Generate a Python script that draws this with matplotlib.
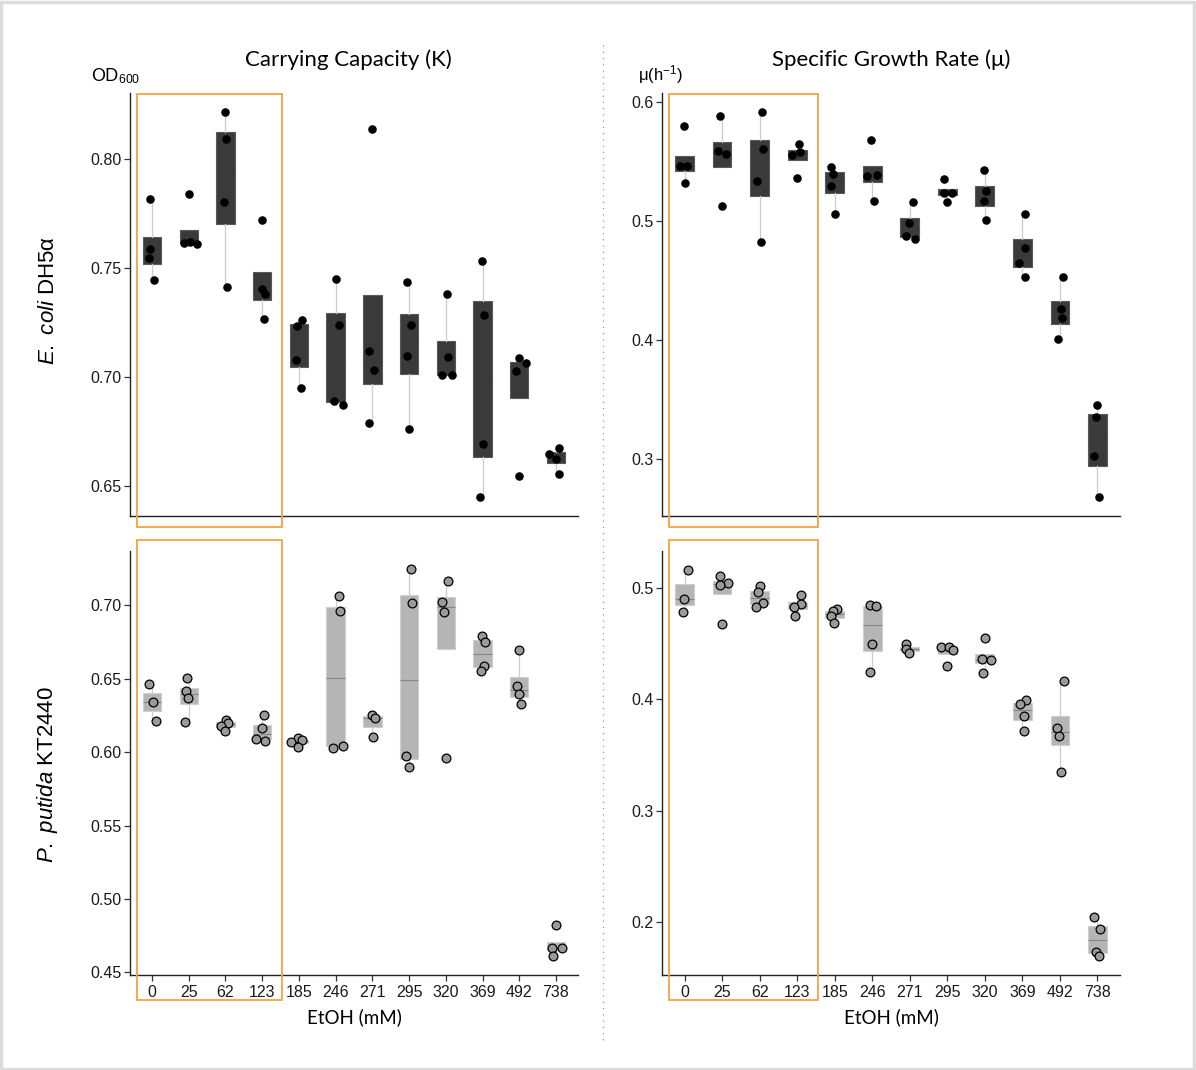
import matplotlib
matplotlib.use("Agg")
import matplotlib.pyplot as plt
import matplotlib.transforms as mtransforms
from matplotlib.patches import Rectangle
from matplotlib.lines import Line2D

plt.rcParams['font.family'] = ['Liberation Sans', 'DejaVu Sans']
plt.rcParams['mathtext.fontset'] = 'custom'
plt.rcParams['mathtext.rm'] = 'Liberation Sans'
plt.rcParams['mathtext.it'] = 'Liberation Sans:italic'

# EtOH concentrations (mM)
etoh = ['0', '25', '62', '123', '185', '246', '271', '295', '320', '369', '492', '738']

# E. coli DH5a, carrying capacity K (OD600)
ecoli_K = [
    [0.7815, 0.7584, 0.7543, 0.7442],
    [0.7840, 0.7619, 0.7614, 0.7607],
    [0.8215, 0.8088, 0.7799, 0.7411],
    [0.7719, 0.7404, 0.7382, 0.7267],
    [0.7262, 0.7235, 0.7077, 0.6951],
    [0.7450, 0.7238, 0.6890, 0.6870],
    [0.8133, 0.7120, 0.7030, 0.6788],
    [0.7437, 0.7239, 0.7097, 0.6762],
    [0.7381, 0.7094, 0.7009, 0.7009],
    [0.7532, 0.7286, 0.6693, 0.6451],
    [0.7087, 0.7062, 0.7026, 0.6545],
    [0.6676, 0.6650, 0.6624, 0.6556],
]
ecoli_K_jit = [
    [-0.06, -0.06, -0.08, 0.04], [0.0, 0.03, -0.13, 0.23], [-0.01, 0.01, -0.03, 0.04],
    [0.0, 0.0, 0.07, 0.05], [0.08, -0.05, -0.07, 0.05], [0.0, 0.09, -0.05, 0.2],
    [0.0, -0.09, 0.05, -0.09], [-0.05, 0.04, -0.05, 0.0], [0.02, 0.05, -0.09, 0.16],
    [-0.02, 0.05, 0.0, -0.07], [0.0, 0.18, -0.09, 0.0], [0.08, -0.19, 0.0, 0.08],
]

# E. coli DH5a, specific growth rate mu (1/h)
ecoli_mu = [
    [0.5798, 0.5462, 0.5462, 0.5319],
    [0.5885, 0.5591, 0.5563, 0.5129],
    [0.5922, 0.5605, 0.5339, 0.4826],
    [0.5647, 0.5580, 0.5560, 0.5367],
    [0.5457, 0.5395, 0.5294, 0.5064],
    [0.5681, 0.5392, 0.5378, 0.5168],
    [0.5162, 0.4986, 0.4874, 0.4849],
    [0.5356, 0.5238, 0.5238, 0.5160],
    [0.5434, 0.5252, 0.5168, 0.5006],
    [0.5062, 0.4776, 0.4647, 0.4529],
    [0.4529, 0.4263, 0.4182, 0.4011],
    [0.3454, 0.3353, 0.3022, 0.2683],
]
ecoli_mu_jit = [
    [-0.02, -0.13, 0.06, 0.01], [-0.05, -0.1, 0.11, 0.0], [0.07, 0.08, -0.06, 0.04],
    [0.05, 0.08, -0.13, -0.01], [-0.1, -0.05, -0.1, 0.0], [-0.02, 0.13, -0.14, 0.05],
    [0.08, -0.03, -0.09, 0.15], [-0.1, -0.08, 0.13, 0.0], [-0.02, 0.04, -0.02, 0.04],
    [0.06, 0.08, -0.1, 0.07], [0.09, 0.04, 0.05, -0.06], [-0.02, -0.05, -0.08, 0.03],
]

# P. putida KT2440, carrying capacity K (OD600)
putida_K = [
    [0.6468, 0.6345, 0.6211],
    [0.6504, 0.6415, 0.6372, 0.6206],
    [0.6217, 0.6201, 0.6177, 0.6145],
    [0.6252, 0.6163, 0.6092, 0.6074],
    [0.6095, 0.6083, 0.6072, 0.6033],
    [0.7061, 0.6964, 0.6045, 0.6031],
    [0.6252, 0.6236, 0.6101],
    [0.7246, 0.7016, 0.5974, 0.5899],
    [0.7164, 0.7025, 0.6952, 0.5960],
    [0.6791, 0.6754, 0.6586, 0.6554],
    [0.6695, 0.6449, 0.6395, 0.6327],
    [0.4823, 0.4666, 0.4664, 0.4611],
]
putida_K_jit = [
    [-0.09, 0.03, 0.1], [-0.04, -0.07, -0.03, -0.09], [0.01, 0.08, -0.11, -0.01],
    [0.06, 0.0, -0.17, 0.07], [-0.02, 0.08, -0.22, -0.03], [0.08, 0.11, 0.19, -0.07],
    [-0.02, 0.06, 0.01], [0.04, 0.07, -0.08, -0.01], [0.05, -0.1, -0.05, 0.0],
    [-0.01, 0.06, 0.04, -0.04], [-0.02, -0.05, -0.02, 0.04], [-0.01, -0.12, 0.17, -0.07],
]

# P. putida KT2440, specific growth rate mu (1/h)
putida_mu = [
    [0.5162, 0.4898, 0.4784],
    [0.5102, 0.5042, 0.5027, 0.4679],
    [0.5012, 0.4958, 0.4865, 0.4829],
    [0.4934, 0.4853, 0.4826, 0.4745],
    [0.4808, 0.4787, 0.4745, 0.4685],
    [0.4844, 0.4832, 0.4491, 0.4245],
    [0.4497, 0.4446, 0.4413],
    [0.4472, 0.4465, 0.4440, 0.4299],
    [0.4548, 0.4359, 0.4350, 0.4239],
    [0.3996, 0.3957, 0.3849, 0.3717],
    [0.4164, 0.3738, 0.3672, 0.3343],
    [0.2048, 0.1940, 0.1731, 0.1695],
]
putida_mu_jit = [
    [0.09, -0.02, -0.03], [-0.06, 0.17, -0.05, -0.01], [0.01, -0.05, 0.1, -0.1],
    [0.09, 0.1, -0.08, -0.06], [0.07, -0.05, -0.09, -0.03], [-0.07, 0.11, 0.0, -0.07],
    [-0.1, -0.1, -0.02], [-0.17, 0.04, 0.16, 0.0], [0.01, -0.07, 0.16, -0.05],
    [0.1, -0.06, 0.05, 0.05], [0.1, -0.09, -0.02, 0.02], [-0.08, 0.06, -0.03, 0.03],
]

ORANGE = '#f4a340'
W, H = 1196, 1070
fig = plt.figure(figsize=(W / 100, H / 100), dpi=100)


def add_ax(l, r, t, b):
    return fig.add_axes([l / W, 1 - b / H, (r - l) / W, (b - t) / H])


ax_tl = add_ax(130, 578, 93, 516)
ax_tr = add_ax(662, 1120, 93, 516)
ax_bl = add_ax(130, 578, 551, 975)
ax_br = add_ax(662, 1120, 551, 975)


def panel(ax, groups, jit, ylim, yticks, fmt, dark, show_x):
    pos = list(range(len(groups)))
    if dark:
        box_fc, box_ec, med_c, pt_fc, pt_ec, ms = '#3a3a3a', '#5a5a5a', '#3a3a3a', 'black', 'black', 38
    else:
        box_fc, box_ec, med_c, pt_fc, pt_ec, ms = '#b5b5b5', '#cfcfcf', '#858585', '#9a9a9a', 'black', 40
    ax.boxplot(groups, positions=pos, widths=0.5, patch_artist=True, showfliers=False,
               showcaps=False,
               boxprops=dict(facecolor=box_fc, edgecolor=box_ec, linewidth=0.8),
               whiskerprops=dict(color='#cccccc', linewidth=0.9),
               medianprops=dict(color=med_c, linewidth=0.8), zorder=2)
    for i, (vals, js) in enumerate(zip(groups, jit)):
        xs = [i + j for j in js]
        ax.scatter(xs, vals, s=ms, facecolor=pt_fc, edgecolor=pt_ec,
                   linewidth=0.9 if not dark else 0, zorder=3)
    ax.set_xlim(-0.6, len(groups) - 0.4)
    ax.set_ylim(*ylim)
    ax.set_yticks(yticks)
    ax.set_yticklabels([fmt.format(v) for v in yticks])
    for s in ['top', 'right']:
        ax.spines[s].set_visible(False)
    for s in ['left', 'bottom']:
        ax.spines[s].set_linewidth(1.0)
        ax.spines[s].set_color('#222222')
    ax.tick_params(axis='y', length=4, width=0.9, color='#333333', labelsize=11.5,
                   labelcolor='#1a1a1a', pad=2)
    if show_x:
        ax.set_xticks(pos)
        ax.set_xticklabels(etoh)
        ax.tick_params(axis='x', length=4, width=0.9, color='#333333', labelsize=11.5,
                       labelcolor='#1a1a1a', pad=3)
        ax.set_xlabel('EtOH (mM)', family=['Lato', 'DejaVu Sans'], fontsize=13.5, labelpad=6)
    else:
        ax.set_xticks([])


def orange_box(ax, y0, y1):
    tr = mtransforms.blended_transform_factory(ax.transData, ax.transAxes)
    ax.add_patch(Rectangle((-0.42, y0), 3.97, y1 - y0, transform=tr, fill=False,
                           edgecolor=ORANGE, linewidth=1.3, clip_on=False, zorder=5))


panel(ax_tl, ecoli_K, ecoli_K_jit, (0.6364, 0.830), [0.65, 0.70, 0.75, 0.80], '{:.2f}', True, False)
panel(ax_tr, ecoli_mu, ecoli_mu_jit, (0.2521, 0.6078), [0.3, 0.4, 0.5, 0.6], '{:.1f}', True, False)
panel(ax_bl, putida_K, putida_K_jit, (0.4482, 0.7371), [0.45, 0.50, 0.55, 0.60, 0.65, 0.70], '{:.2f}', False, True)
panel(ax_br, putida_mu, putida_mu_jit, (0.1524, 0.533), [0.2, 0.3, 0.4, 0.5], '{:.1f}', False, True)

for ax in (ax_tl, ax_tr):
    orange_box(ax, -0.026, 0.997)
for ax in (ax_bl, ax_br):
    orange_box(ax, -0.059, 1.026)

# titles and unit labels
fig.text(348 / W, 1 - 60 / H, 'Carrying Capacity (K)', ha='center', va='center',
         family=['Lato', 'DejaVu Sans'], fontsize=16)
fig.text(891 / W, 1 - 60 / H, 'Specific Growth Rate (μ)', ha='center', va='center',
         family=['Lato', 'DejaVu Sans'], fontsize=16)
fig.text(91 / W, 1 - 76 / H, r'OD$_{600}$', ha='left', va='center',
         family=['Lato', 'DejaVu Sans'], fontsize=12.5)
fig.text(638 / W, 1 - 75 / H, r'μ(h$^{-1}$)', ha='left', va='center', fontsize=12)

# row labels
fig.text(48 / W, 1 - 300 / H, r'$\mathit{E.\ coli}$ DH5α', rotation=90, ha='center',
         va='center', fontsize=16)
fig.text(48 / W, 1 - 775 / H, r'$\mathit{P.\ putida}$ KT2440', rotation=90, ha='center',
         va='center', fontsize=16)

# dotted separator and outer frame
fig.add_artist(Line2D([603 / W, 603 / W], [1 - 45 / H, 1 - 1042 / H], color='#999999',
                      linewidth=0.9, linestyle=(0, (1, 4))))
fig.add_artist(Rectangle((0.001, 0.001), 0.997, 0.997, transform=fig.transFigure,
                         fill=False, edgecolor='#dcdcdc', linewidth=2.5))

fig.savefig('out.png', dpi=100, facecolor='white')
